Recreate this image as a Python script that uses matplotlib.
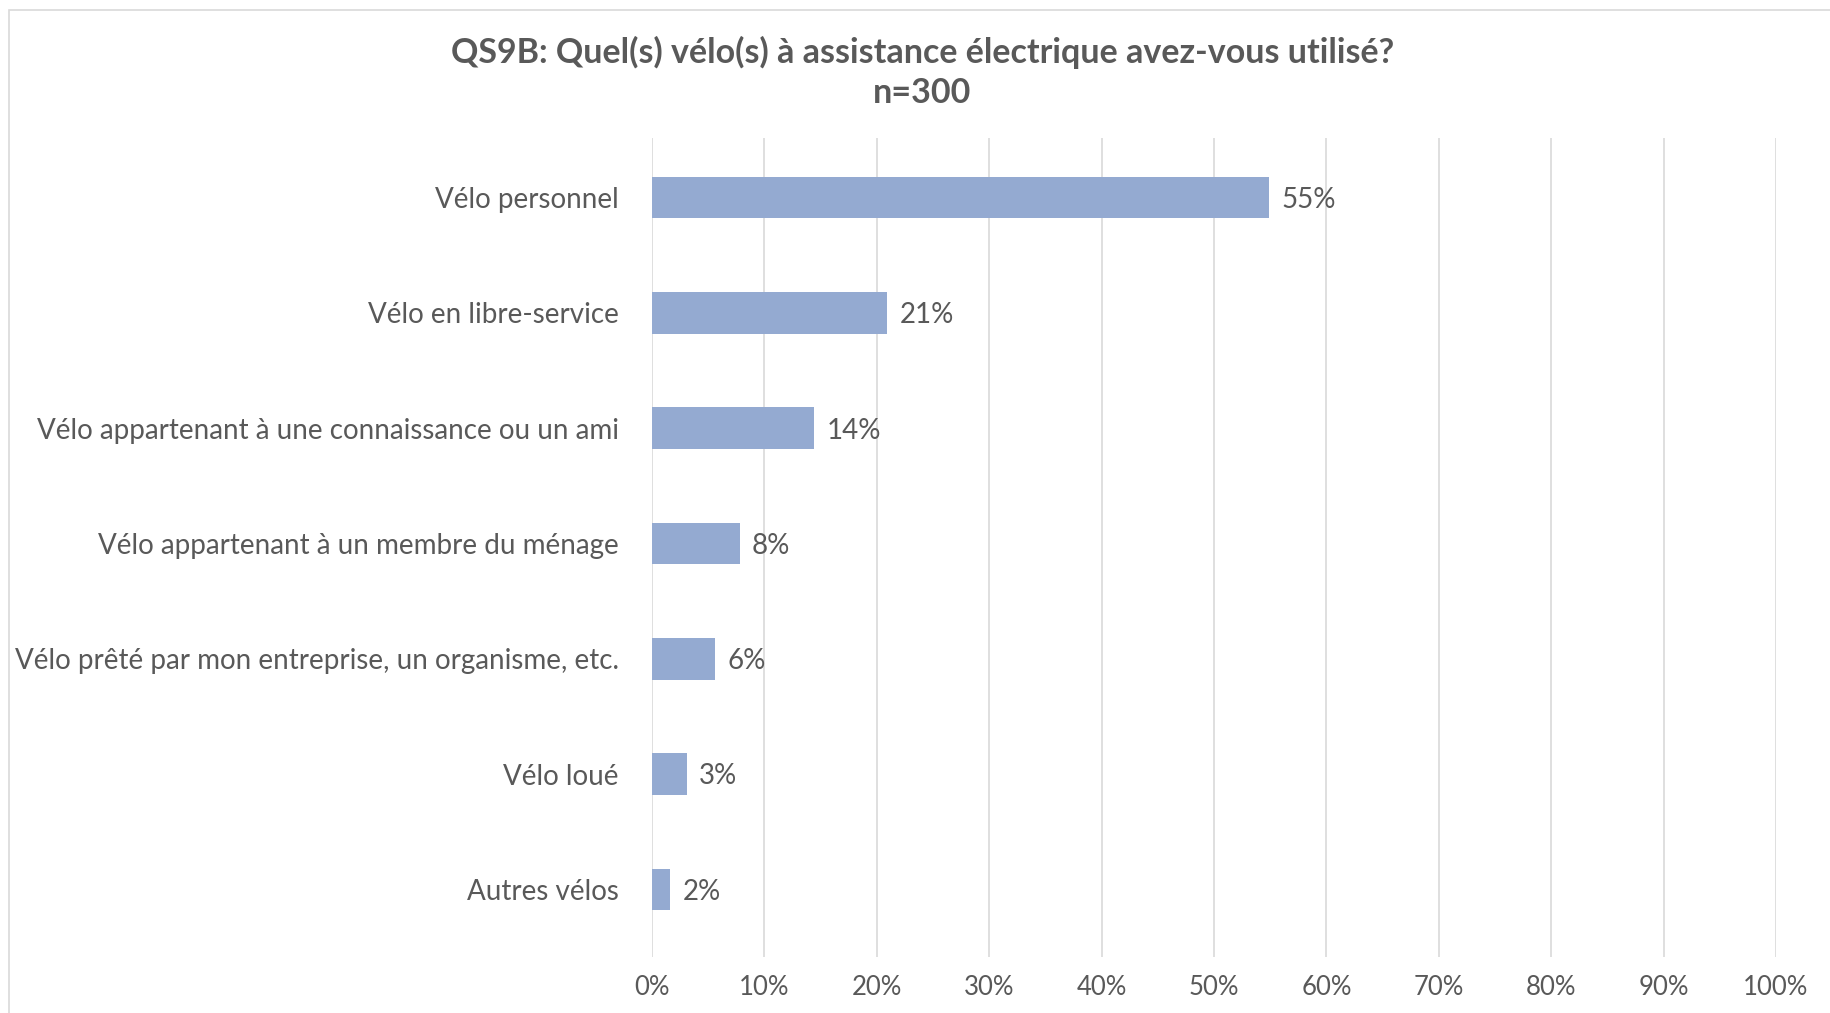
import matplotlib.pyplot as plt
from matplotlib.patches import Rectangle
import numpy as np

plt.rcParams['font.family'] = ['Lato', 'DejaVu Sans']

categories = ['Vélo personnel', 'Vélo en libre-service',
              'Vélo appartenant à une connaissance ou un ami',
              'Vélo appartenant à un membre du ménage',
              'Vélo prêté par mon entreprise, un organisme, etc.',
              'Vélo loué', 'Autres vélos']
values = [54.9, 20.9, 14.4, 7.8, 5.6, 3.1, 1.6]
xticks = np.arange(0, 101, 10)

bar_color = '#94AAD1'
text_color = '#595959'
grid_color = '#D9D9D9'

fig = plt.figure(figsize=(18.3, 10.13), dpi=100)
ax = fig.add_axes([0.3563, 0.055, 0.6142, 0.809])

# light frame around the chart area
fig.patches.append(Rectangle((0.0049, -0.05), 1.1, 1.04, transform=fig.transFigure,
                             fill=False, edgecolor='#D9D9D9', linewidth=1.2))

y = np.arange(len(categories))
ax.barh(y, values, height=0.36, color=bar_color, zorder=3)
for yi, v in zip(y, values):
    ax.text(v + 1.1, yi + 0.02, '{:.0f}%'.format(v), va='center', ha='left',
            fontsize=20, color=text_color)

ax.set_yticks(y)
ax.set_yticklabels(categories, fontsize=20, color=text_color)
ax.set_ylim(len(categories) - 0.41, -0.52)
ax.set_xlim(0, 100)
ax.set_xticks(xticks)
ax.set_xticklabels(['{}%'.format(t) for t in xticks], fontsize=18.5, color=text_color)
ax.tick_params(axis='both', length=0)
ax.tick_params(axis='y', pad=24)
ax.tick_params(axis='x', pad=13)
ax.grid(axis='x', color=grid_color, linewidth=1.2, zorder=0)
for s in ax.spines.values():
    s.set_visible(False)

fig.text(0.504, 0.948, 'QS9B: Quel(s) vélo(s) à assistance électrique avez-vous utilisé?',
         ha='center', va='center', fontsize=24.5, fontweight='bold', color=text_color)
fig.text(0.504, 0.908, 'n=300', ha='center', va='center', fontsize=24.5,
         fontweight='bold', color=text_color)

plt.savefig('out.png', dpi=100, facecolor='white')
